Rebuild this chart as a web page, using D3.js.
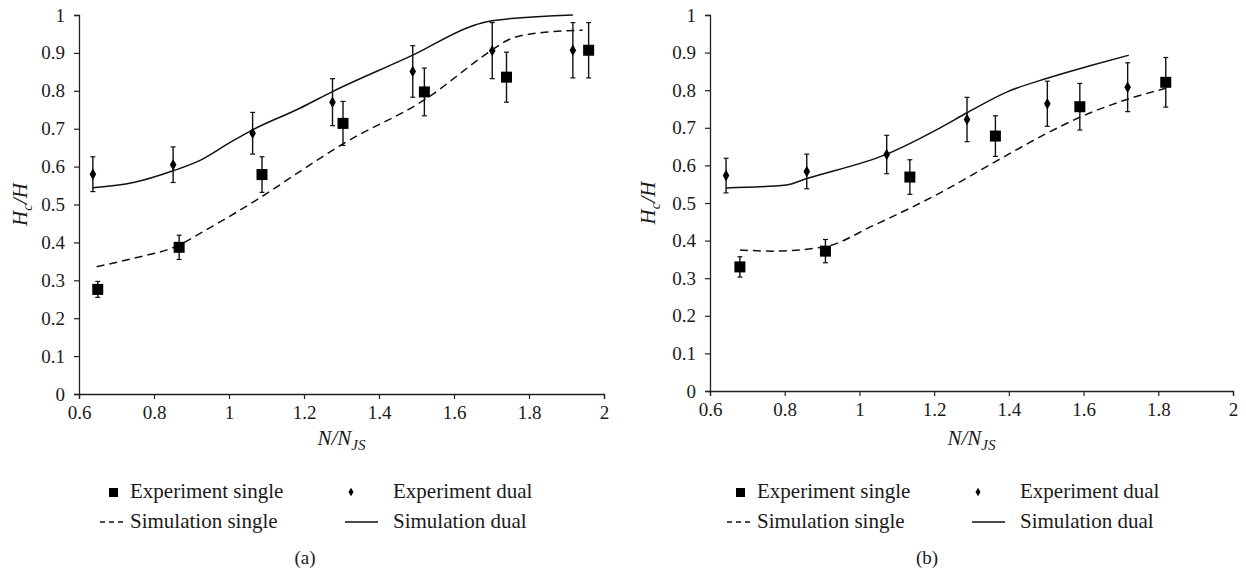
<!DOCTYPE html>
<html>
<head>
<meta charset="utf-8">
<script src="https://cdn.jsdelivr.net/npm/d3@7"></script>
<style>
body { margin: 0; background: #fff; }
text { font-family: "Liberation Serif", "Times New Roman", "DejaVu Serif", serif; fill: #1a1a1a; }
</style>
</head>
<body>
<script>
var width = 1246,
  height = 575;

var xTicks = [0.6, 0.8, 1, 1.2, 1.4, 1.6, 1.8, 2];
var yTicks = [0, 0.1, 0.2, 0.3, 0.4, 0.5, 0.6, 0.7, 0.8, 0.9, 1];
var legendLabels = ["Experiment single", "Experiment dual", "Simulation single", "Simulation dual"];

// panel (a) : [N/NJS, Hc/H, error]
var aExpSingle = [[0.65, 0.276, 0.021], [0.867, 0.387, 0.032], [1.088, 0.579, 0.047],
  [1.304, 0.714, 0.058], [1.521, 0.797, 0.063], [1.74, 0.836, 0.066], [1.959, 0.907, 0.073]];
var aExpDual = [[0.637, 0.58, 0.046], [0.851, 0.605, 0.047], [1.063, 0.688, 0.055],
  [1.276, 0.77, 0.062], [1.49, 0.851, 0.068], [1.702, 0.906, 0.074], [1.917, 0.907, 0.073]];
var aSimSingle = [[0.647, 0.336], [0.745, 0.358], [0.867, 0.393], [0.923, 0.424], [1.088, 0.521],
  [1.189, 0.587], [1.304, 0.66], [1.521, 0.776], [1.702, 0.908], [1.74, 0.932], [1.812, 0.951], [1.943, 0.96]];
var aSimDual = [[0.637, 0.544], [0.745, 0.558], [0.851, 0.589], [0.92, 0.615], [1.0, 0.662], [1.063, 0.697],
  [1.189, 0.754], [1.276, 0.798], [1.49, 0.894], [1.66, 0.975], [1.702, 0.985], [1.917, 1.0]];

// panel (b)
var bExpSingle = [[0.68, 0.33, 0.027], [0.909, 0.372, 0.031], [1.135, 0.569, 0.046],
  [1.364, 0.678, 0.054], [1.59, 0.756, 0.062], [1.82, 0.821, 0.066]];
var bExpDual = [[0.643, 0.573, 0.046], [0.859, 0.584, 0.046], [1.073, 0.629, 0.051],
  [1.288, 0.722, 0.059], [1.503, 0.764, 0.06], [1.718, 0.808, 0.065]];
var bSimSingle = [[0.68, 0.375], [0.77, 0.372], [0.909, 0.384], [1.037, 0.44], [1.216, 0.527],
  [1.364, 0.61], [1.501, 0.685], [1.59, 0.728], [1.718, 0.776], [1.82, 0.805]];
var bSimDual = [[0.643, 0.54], [0.805, 0.548], [0.859, 0.565], [1.073, 0.63], [1.216, 0.7],
  [1.288, 0.74], [1.394, 0.795], [1.503, 0.832], [1.617, 0.865], [1.721, 0.893]];

var panels = [
  { expSingle: aExpSingle, expDual: aExpDual, simSingle: aSimSingle, simDual: aSimDual,
    x0: 79, x1: 604, y0: 394, y1: 15, off: 0, titleX: 20, caption: "(a)", capX: 305 },
  { expSingle: bExpSingle, expDual: bExpDual, simSingle: bSimSingle, simDual: bSimDual,
    x0: 710, x1: 1233, y0: 391, y1: 15, off: 627, titleX: 648, caption: "(b)", capX: 927 }
];

var svg = d3.select("body").append("svg")
  .attr("width", width)
  .attr("height", height)
  .style("background", "#fff");

panels.forEach(function (p) {
  var x = d3.scaleLinear().domain([0.6, 2]).range([p.x0, p.x1]);
  var y = d3.scaleLinear().domain([0, 1]).range([p.y0, p.y1]);
  var g = svg.append("g");

  // axes
  var xAxis = g.append("g")
    .attr("transform", "translate(0," + p.y0 + ")")
    .call(d3.axisBottom(x).tickValues(xTicks).tickSize(5).tickPadding(7).tickFormat(function (d) { return d; }));
  var yAxis = g.append("g")
    .attr("transform", "translate(" + p.x0 + ",0)")
    .call(d3.axisLeft(y).tickValues(yTicks).tickSize(5).tickPadding(9).tickFormat(function (d) { return d; }));
  [xAxis, yAxis].forEach(function (a) {
    a.attr("font-family", null).attr("font-size", null);
    a.select(".domain").attr("stroke", "#222").attr("stroke-width", 1.3);
    a.selectAll(".tick line").attr("stroke", "#222").attr("stroke-width", 1.2);
    a.selectAll(".tick text").style("font-size", "19px").attr("fill", "#1a1a1a");
  });

  // simulation lines
  var line = d3.line()
    .x(function (d) { return x(d[0]); })
    .y(function (d) { return y(d[1]); })
    .curve(d3.curveMonotoneX);
  g.append("path").datum(p.simDual).attr("d", line)
    .attr("fill", "none").attr("stroke", "#111").attr("stroke-width", 1.5);
  g.append("path").datum(p.simSingle).attr("d", line)
    .attr("fill", "none").attr("stroke", "#111").attr("stroke-width", 1.5)
    .attr("stroke-dasharray", "8,5");

  // error bars
  var errs = p.expDual.concat(p.expSingle);
  var eb = g.selectAll(".err").data(errs).enter().append("g");
  eb.append("line")
    .attr("x1", function (d) { return x(d[0]); }).attr("x2", function (d) { return x(d[0]); })
    .attr("y1", function (d) { return y(d[1] - d[2]); }).attr("y2", function (d) { return y(d[1] + d[2]); })
    .attr("stroke", "#111").attr("stroke-width", 1.4);
  [-1, 1].forEach(function (s) {
    eb.append("line")
      .attr("x1", function (d) { return x(d[0]) - 2.5; }).attr("x2", function (d) { return x(d[0]) + 2.5; })
      .attr("y1", function (d) { return y(d[1] + s * d[2]); }).attr("y2", function (d) { return y(d[1] + s * d[2]); })
      .attr("stroke", "#111").attr("stroke-width", 1.2);
  });

  // markers
  g.selectAll(".dia").data(p.expDual).enter().append("path")
    .attr("d", d3.symbol(d3.symbolDiamond, 38))
    .attr("transform", function (d) { return "translate(" + x(d[0]) + "," + y(d[1]) + ")"; })
    .attr("fill", "#000");
  g.selectAll(".sq").data(p.expSingle).enter().append("rect")
    .attr("x", function (d) { return x(d[0]) - 5.5; })
    .attr("y", function (d) { return y(d[1]) - 5.5; })
    .attr("width", 11).attr("height", 11)
    .attr("fill", "#000");

  // axis titles
  var yt = g.append("text")
    .attr("transform", "translate(" + p.titleX + "," + ((p.y0 + p.y1) / 2) + ") rotate(-90)")
    .attr("text-anchor", "middle")
    .attr("dy", "0.35em")
    .style("font-size", "21px").style("font-style", "italic");
  yt.append("tspan").text("H");
  yt.append("tspan").text("c").attr("dy", 5).style("font-size", "15px");
  yt.append("tspan").text("/H").attr("dy", -5);

  var xt = g.append("text")
    .attr("x", (p.x0 + p.x1) / 2)
    .attr("y", 445)
    .attr("text-anchor", "middle")
    .style("font-size", "21px").style("font-style", "italic");
  xt.append("tspan").text("N/N");
  xt.append("tspan").text("JS").attr("dy", 5).style("font-size", "15px");

  // legend
  var lg = g.append("g").attr("transform", "translate(" + p.off + ",0)");
  lg.append("rect").attr("x", 109).attr("y", 488).attr("width", 9).attr("height", 9).attr("fill", "#000");
  lg.append("path").attr("d", d3.symbol(d3.symbolDiamond, 22))
    .attr("transform", "translate(351,492)").attr("fill", "#000");
  lg.append("line").attr("x1", 100).attr("x2", 125).attr("y1", 522).attr("y2", 522)
    .attr("stroke", "#111").attr("stroke-width", 1.3).attr("stroke-dasharray", "5,4");
  lg.append("line").attr("x1", 345).attr("x2", 378).attr("y1", 522).attr("y2", 522)
    .attr("stroke", "#111").attr("stroke-width", 1.5);
  var lpos = [[130, 498], [393, 498], [130, 528], [393, 528]];
  lg.selectAll(".lt").data(legendLabels).enter().append("text")
    .attr("x", function (d, i) { return lpos[i][0]; })
    .attr("y", function (d, i) { return lpos[i][1]; })
    .style("font-size", "21px")
    .text(function (d) { return d; });

  g.append("text")
    .attr("x", p.capX).attr("y", 564)
    .attr("text-anchor", "middle")
    .style("font-size", "19px")
    .text(p.caption);
});
</script>
</body>
</html>
